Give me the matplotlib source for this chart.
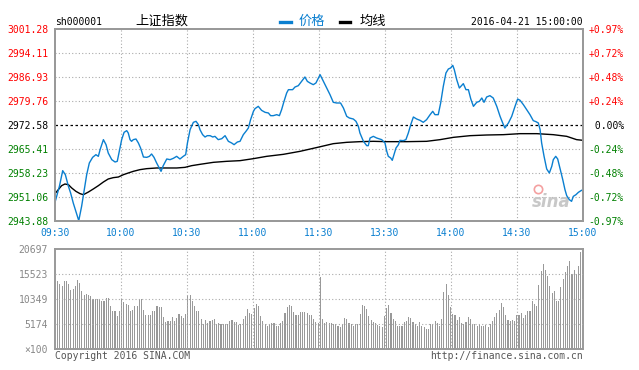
import numpy as np
import matplotlib
matplotlib.use("Agg")
import matplotlib.pyplot as plt
from matplotlib.lines import Line2D

# ---------------- data ----------------
prev_close = 2972.58
price_ticks = [3001.28, 2994.11, 2986.93, 2979.76, 2972.58, 2965.41, 2958.23, 2951.06, 2943.88]
pct_labels = ["+0.97%", "+0.72%", "+0.48%", "+0.24%", " 0.00%", "-0.24%", "-0.48%", "-0.72%", "-0.97%"]
time_ticks = [0, 30, 60, 90, 120, 150, 180, 210, 240]
time_labels = ["09:30", "10:00", "10:30", "11:00", "11:30", "13:30", "14:00", "14:30", "15:00"]

# minute offsets from 09:30 (afternoon session continues at 120)
price_minutes = [0, 2.0, 3.5, 4.7, 6.1, 7.1, 8.3, 9.8, 10.8, 12.1, 13.2, 14.4, 15.6, 17.1, 18.6, 19.7,
                 20.5, 22.0, 23.2, 24.2, 25.8, 27.3, 28.3, 29.2, 30.3, 31.4, 32.6, 33.3, 34.1, 34.8,
                 35.6, 36.8, 37.9, 38.9, 40.2, 41.7, 42.9, 43.9, 45.0, 46.2, 47.4, 48.2, 49.2, 50.8,
                 52.3, 53.8, 55.3, 56.8, 58.3, 59.4, 60.2, 61.4, 62.9, 64.1, 65.2, 65.9, 67.1, 68.2,
                 69.2, 70.5, 71.7, 72.7, 74.2, 75.8, 77.3, 78.8, 80.3, 81.4, 82.9, 84.1, 85.6, 86.8,
                 87.9, 88.9, 90.2, 90.9, 92.4, 93.9, 95.5, 97.0, 98.0, 99.2, 100.8, 102.0, 103.0,
                 104.1, 105.3, 106.1, 108.0, 109.1, 110.6, 112.1, 113.6, 114.7, 115.9, 117.4, 118.6,
                 120.0, 120.5, 122.0, 123.5, 125.0, 126.5, 128.0, 129.8, 131.1, 132.6, 133.8, 135.6,
                 136.8, 137.9, 138.6, 140.2, 141.7, 142.4, 143.2, 144.7, 146.2, 148.5, 150.0, 150.8,
                 151.5, 152.6, 153.3, 154.1, 155.0, 156.1, 156.8, 158.3, 159.5, 160.6, 161.7, 162.9,
                 164.4, 165.9, 167.4, 168.9, 170.5, 171.7, 172.7, 174.2, 175.3, 176.5, 177.7, 178.8,
                 179.8, 180.8, 181.5, 182.6, 183.8, 184.8, 185.6, 186.8, 187.9, 189.0, 190.2, 191.7,
                 192.9, 194.0, 195.0, 196.2, 197.7, 199.2, 200.8, 202.3, 203.5, 204.5, 206.1, 207.6,
                 209.1, 210.3, 211.4, 212.9, 214.4, 215.9, 217.4, 218.6, 219.7, 220.5, 221.2, 222.3,
                 223.5, 224.7, 225.8, 226.5, 227.6, 228.5, 229.5, 230.8, 231.8, 232.6, 233.8, 234.8,
                 235.6, 236.8, 237.9, 239.1, 240.0]
price_values = [2949.46, 2954.24, 2958.93, 2957.73, 2954.24, 2952.25, 2949.26, 2946.07, 2943.98,
                2948.27, 2952.75, 2957.73, 2961.22, 2962.91, 2963.71, 2963.21, 2965.21, 2968.20,
                2966.70, 2964.21, 2962.22, 2961.52, 2961.72, 2964.71, 2968.20, 2970.39, 2970.89,
                2970.19, 2968.20, 2967.70, 2968.20, 2968.40, 2967.20, 2965.70, 2963.01, 2962.91,
                2963.21, 2963.91, 2962.91, 2961.22, 2959.73, 2958.73, 2960.42, 2962.42, 2962.22,
                2962.62, 2963.21, 2962.42, 2963.21, 2963.71, 2967.20, 2971.18, 2973.38, 2973.68,
                2972.68, 2971.18, 2969.69, 2968.99, 2969.39, 2969.39, 2968.99, 2969.19, 2968.20,
                2968.49, 2969.39, 2967.70, 2967.20, 2966.70, 2967.50, 2967.70, 2969.69, 2970.69,
                2971.68, 2974.17, 2976.67, 2977.46, 2978.16, 2976.96, 2976.37, 2976.17, 2975.37,
                2975.37, 2975.67, 2975.37, 2977.16, 2979.66, 2982.15, 2983.14, 2983.14, 2983.94,
                2984.34, 2985.63, 2986.93, 2985.63, 2985.14, 2984.64, 2985.14, 2986.93,
                2987.63, 2985.63, 2983.64, 2981.65, 2979.36, 2979.16, 2979.16, 2977.66, 2975.17,
                2974.67, 2974.37, 2973.68, 2972.18, 2970.19, 2967.70, 2966.40, 2966.40, 2968.69,
                2969.19, 2968.69, 2968.20, 2967.20, 2964.71, 2963.21, 2962.71, 2962.02, 2963.71,
                2965.70, 2966.70, 2967.99, 2967.90, 2968.20, 2970.19, 2972.68, 2974.97, 2974.37,
                2973.98, 2973.38, 2974.17, 2975.67, 2976.67, 2975.67, 2975.67, 2979.16, 2984.14,
                2988.13, 2989.32, 2989.62, 2990.42, 2989.12, 2986.13, 2983.64, 2984.34, 2984.94,
                2983.14, 2983.14, 2980.35, 2978.16, 2979.36, 2979.66, 2980.65, 2979.36, 2980.95,
                2981.35, 2980.65, 2978.16, 2975.17, 2973.18, 2971.68, 2973.18, 2975.17, 2978.16,
                2980.35, 2979.95, 2978.66, 2977.16, 2975.67, 2973.88, 2973.58, 2973.18, 2971.18,
                2967.20, 2963.21, 2959.43, 2958.23, 2960.22, 2962.22, 2963.21, 2962.42, 2959.73,
                2956.24, 2953.25, 2951.45, 2950.26, 2949.76, 2951.25, 2951.75, 2952.45, 2952.95,
                2953.25]

avg_minutes = [0.5, 1.5, 3.0, 4.5, 6.1, 7.6, 9.5, 11.4, 12.9, 15.2, 17.4, 19.7, 22.0, 24.2, 26.5,
               28.8, 31.1, 33.3, 35.6, 38.6, 41.7, 46.2, 50.8, 55.3, 59.1, 62.1, 65.9, 72.0, 78.0,
               84.1, 90.2, 96.2, 103.8, 111.4, 120.0, 126.5, 132.6, 138.6, 144.7, 150.8, 159.9,
               168.9, 175.0, 181.1, 188.7, 196.2, 203.8, 211.4, 219.0, 226.5, 232.6, 237.1, 240.0]
avg_values = [2952.45, 2953.25, 2954.44, 2954.94, 2954.74, 2953.75, 2952.75, 2952.05, 2951.75,
              2952.55, 2953.45, 2954.44, 2955.54, 2956.44, 2956.84, 2957.03, 2957.73, 2958.23,
              2958.73, 2959.23, 2959.53, 2959.73, 2959.73, 2959.73, 2959.92, 2960.42, 2960.82,
              2961.42, 2961.72, 2961.92, 2962.52, 2963.21, 2963.81, 2964.71, 2966.00, 2967.00,
              2967.40, 2967.60, 2967.70, 2967.60, 2967.60, 2967.70, 2968.20, 2968.89, 2969.39,
              2969.59, 2969.69, 2969.99, 2969.99, 2969.69, 2969.19, 2968.20, 2968.00]

# volume per minute, in units of 100 shares
volume = [14007, 13524, 12972, 14145, 14145, 13524, 12144, 12420, 13110, 14352, 13662, 12075,
          11247, 11454, 11247, 10902, 10419, 10419, 10419, 10419, 9867, 10005, 10557, 10557,
          8970, 7935, 7935, 6762, 7935, 10419, 9729, 9315, 9177, 7797, 8142, 8970, 8970, 10419,
          10419, 8142, 6969, 7107, 6969, 7935, 7935, 8970, 8763, 8763, 6555, 5520, 5865, 5865,
          6555, 5865, 6417, 7245, 6762, 6417, 7245,
          10902, 11247, 10005, 8832, 7935, 7935, 6279, 5175, 6072, 5382, 5727, 6072, 6279, 5175,
          5382, 5175, 5175, 5175, 5175, 5865, 6072, 5589, 5589, 4899, 5244, 6279, 6762, 8349,
          7452, 7245, 8487, 9315, 8832, 6762, 5865, 5175, 4830, 4899, 5313, 5313, 4830, 4830,
          5382, 5865, 7452, 8625, 9039, 8970, 7659, 7107, 7107, 7590, 7659, 7590, 7452, 7107,
          7107, 6279, 5589, 5382, 14835,
          6279, 5382, 5589, 5382, 5382, 5175, 5175, 4692, 4485, 5244, 6417, 6279, 5382, 5175,
          4830, 5175, 5175, 7314, 9177, 8970, 8349, 6762, 6072, 5589, 5382, 5037, 4830, 4485,
          6762, 8487, 9177, 7452, 6279, 5727, 4830, 4830, 4830, 5589, 5865, 6555, 6417, 5520,
          5175, 4830, 5589, 4830, 4485, 4209, 4209, 5175, 5244, 5865, 5382, 4830, 6279, 11730,
          13524, 11109, 8625, 7314,
          7107, 6072, 6555, 5382, 5175, 5520, 6555, 6279, 5244, 5244, 4692, 5037, 4692, 4692,
          5037, 4485, 5244, 5727, 6555, 7452, 8142, 9522, 8694, 7107, 6072, 5865, 6072, 5865,
          7107, 7107, 7452, 6417, 6969, 7935, 7935, 9867, 9315, 8970, 13317, 16215, 17664,
          16422, 15180, 12972, 11592, 11937, 10005, 9867, 12765, 14559, 15939, 17112, 18285,
          15525, 16422, 15594, 17112, 20010]
vol_ticks = [20697, 15523, 10349, 5174, 0]
vol_labels = ["20697", "15523", "10349", "5174", "×100"]

# ---------------- style ----------------
W, H = 639, 370
BLUE = "#0a7fd0"
GRAY = "#999999"
RED = "#ff0000"
GREEN = "#008000"
MONO = "DejaVu Sans Mono"
CJK = ["Noto Sans CJK SC", "DejaVu Sans"]
GRID = dict(color="#aaaaaa", linestyle=(0, (1, 2)), linewidth=0.8)


def fx(x):
    return x / W


def fy(y):
    return 1 - y / H


fig = plt.figure(figsize=(W / 100, H / 100), dpi=100)
fig.patch.set_facecolor("white")

# ---------------- price panel ----------------
ax = fig.add_axes([fx(55), fy(221), 528 / W, 192 / H])
ax.set_xlim(0, 240)
ax.set_ylim(price_ticks[-1], price_ticks[0])
for t in time_ticks[1:-1]:
    ax.axvline(t, zorder=1, **GRID)
for p in price_ticks[1:-1]:
    if p == prev_close:
        ax.axhline(p, color="black", linestyle=(0, (2, 2)), linewidth=0.9, zorder=2)
    else:
        ax.axhline(p, zorder=1, **GRID)

ax.plot(avg_minutes, avg_values, color="black", linewidth=1.0, zorder=3)
ax.plot(price_minutes, price_values, color=BLUE, linewidth=1.0, zorder=4)

ax.set_yticks(price_ticks)
ax.set_yticklabels([f"{p:.2f}" for p in price_ticks], fontfamily=MONO, fontsize=7)
for lab, p in zip(ax.get_yticklabels(), price_ticks):
    lab.set_color(RED if p > prev_close else ("black" if p == prev_close else GREEN))
ax.set_xticks(time_ticks)
ax.set_xticklabels(time_labels, fontfamily=MONO, fontsize=7, color=BLUE)
ax.tick_params(axis="both", length=0, pad=5)

ax2 = ax.twinx()
ax2.set_ylim(ax.get_ylim())
ax2.set_yticks(price_ticks)
ax2.set_yticklabels(pct_labels, fontfamily=MONO, fontsize=7)
for lab, p in zip(ax2.get_yticklabels(), price_ticks):
    lab.set_color(RED if p > prev_close else ("black" if p == prev_close else GREEN))
ax2.tick_params(axis="y", length=0, pad=4)

for a in (ax, ax2):
    for s in a.spines.values():
        s.set_color(GRAY)
        s.set_linewidth(1.4)

# sina watermark
ax.text(0.94, 0.10, "sina", transform=ax.transAxes, fontsize=12, fontstyle="italic",
        fontweight="bold", color="#c8c8c8", ha="center", va="center", zorder=2)
ax.plot([0.915], [0.165], transform=ax.transAxes, marker="o", markersize=6,
        markerfacecolor="none", markeredgecolor="#f4a0a0", markeredgewidth=1.2, zorder=2)

# ---------------- volume panel ----------------
vx = fig.add_axes([fx(55), fy(349), 528 / W, 100 / H])
vx.set_xlim(0, 240)
vx.set_ylim(0, vol_ticks[0])
vol_minutes = np.linspace(1.2, 239.0, len(volume))
vx.bar(vol_minutes, volume, width=0.5, color=GRAY, linewidth=0, zorder=2)
for t in time_ticks[1:-1]:
    vx.axvline(t, zorder=3, **GRID)
for v in vol_ticks[1:-1]:
    vx.axhline(v, zorder=3, **GRID)
vx.set_yticks(vol_ticks)
vx.set_yticklabels(vol_labels, fontfamily=MONO, fontsize=7, color="#888888")
vx.set_xticks([])
vx.tick_params(axis="y", length=0, pad=5)
for s in vx.spines.values():
    s.set_color(GRAY)
    s.set_linewidth(1.4)

# ---------------- header & footer ----------------
fig.text(fx(55), fy(22), "sh000001", fontfamily=MONO, fontsize=7, color="black",
         ha="left", va="center")
fig.text(fx(162), fy(21), "上证指数", fontfamily=CJK, fontsize=9.5, color="black",
         ha="center", va="center")
fig.add_artist(Line2D([fx(280), fx(291)], [fy(22), fy(22)], color=BLUE, linewidth=2.4))
fig.text(fx(299), fy(21), "价格", fontfamily=CJK, fontsize=9.5, color=BLUE,
         ha="left", va="center")
fig.add_artist(Line2D([fx(340), fx(350)], [fy(22), fy(22)], color="black", linewidth=2.4))
fig.text(fx(360), fy(21), "均线", fontfamily=CJK, fontsize=9.5, color="black",
         ha="left", va="center")
fig.text(fx(583), fy(22), "2016-04-21 15:00:00", fontfamily=MONO, fontsize=7,
         color="black", ha="right", va="center")

fig.text(fx(55), fy(356), "Copyright 2016 SINA.COM", fontfamily=MONO, fontsize=7,
         color="#555555", ha="left", va="center")
fig.text(fx(583), fy(356), "http://finance.sina.com.cn", fontfamily=MONO, fontsize=7,
         color="#555555", ha="right", va="center")

fig.savefig("out.png", dpi=100)
